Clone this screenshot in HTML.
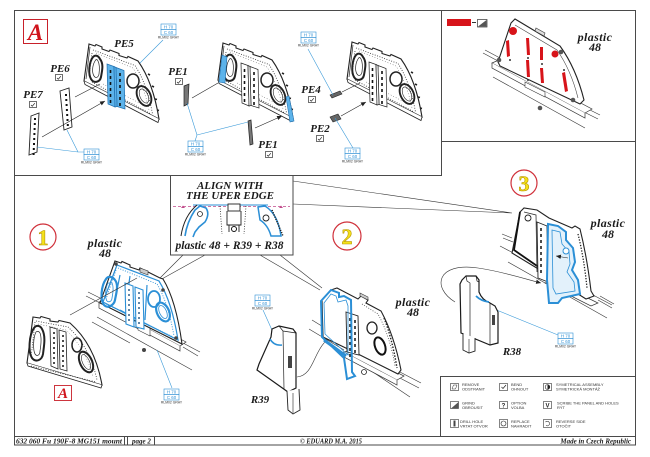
<!DOCTYPE html>
<html><head><meta charset="utf-8">
<style>
html,body{margin:0;padding:0;background:#fff;width:650px;height:457px;overflow:hidden}
svg{display:block}
.b{font-family:"Liberation Serif",serif;font-weight:bold;font-style:italic;fill:#1b1b1b}
.lg{font-family:"Liberation Sans",sans-serif;font-size:4px;fill:#333}
.cb{font-family:"Liberation Sans",sans-serif;font-size:4.4px;fill:#2d8fd5;text-anchor:middle}
.rl{font-family:"Liberation Sans",sans-serif;font-size:3.4px;fill:#333;text-anchor:middle}
.num{font-family:"Liberation Serif",serif;font-weight:bold;font-size:22px;fill:#f4e21a;stroke:#b89400;stroke-width:.6;text-anchor:middle}
</style></head><body>
<svg width="650" height="457" viewBox="0 0 650 457" xmlns="http://www.w3.org/2000/svg">
<defs>
<marker id="ah" markerWidth="6" markerHeight="6" refX="5" refY="3" orient="auto" markerUnits="userSpaceOnUse"><path d="M0,0.8 L5,3 L0,5.2 Z" fill="#222"/></marker>
<g id="pfo">
<path d="M0,0 L6,2 L7,.5 L13,3 L13,5 L20,7.5 L21,6 L30,9.5 L30,11.5 L38,14 L39,12.5 L49,17 Q64,38 70,75 L-5,37 Z" fill="#fff" stroke-width="1.1"/>
<path d="M-5,37 L-4,40.5 L69,78.5 L70,75" fill="#fff" stroke-width=".8"/>
<path d="M1,3 L-3,35" fill="none" stroke-width=".7"/>
</g>
<g id="pfi" fill="none">
<path d="M4,6 L46,21.5 Q58,40 63.5,70 M3,9 L0,33 M3,38 L62,70" stroke-width=".8" stroke-dasharray=".9 1.6"/>
<path d="M7,9 L44,24 Q55,42 60,66 M14,40 L58,63" stroke-width=".5" stroke-dasharray=".8 2"/>
<path d="M4,13 C0,18 -1,30 2,35 C5,40 11,38 12,33 C13,27 15,20 11,15 C9,11 6,11 4,13 Z" stroke-width="2"/>
<path d="M6,17 C3,22 3,29 5,32 C7,35 9.5,33 10,30 C10.5,26 11,21 9,17 C8,15 7,15 6,17 Z" stroke-width=".7"/>
<ellipse cx="44" cy="37" rx="6" ry="7" stroke-width="1.5"/>
<ellipse cx="55" cy="52" rx="6.5" ry="10.5" transform="rotate(-25 55 52)" stroke-width="1.9"/>
<ellipse cx="55" cy="52" rx="4" ry="7.5" transform="rotate(-25 55 52)" stroke-width=".6"/>
<path d="M59,30 l2,1 M63,42 l2,1 M66,55 l2,.5 M68,66 l2,.5" stroke-width="1.6"/>
</g>
<g id="st">
<path d="M18,20 L25,22.5 L26,63 L19,60 Z"/>
<path d="M27,23.5 L35,26.5 L36,65 L28,62.5 Z"/>
<path d="M25,22.5 L27,23.5 L28,62.5 L26,63 Z"/>
<path d="M21.5,26 v3 m0,3 v3 m0,3 v3 m0,3 v3 m0,3 v3 m0,3 v3 M31,29 v3 m0,3 v3 m0,3 v3 m0,3 v3 m0,3 v3 m0,3 v3" stroke-width="1.6" stroke="#111" fill="none"/>
</g>
</defs>
<rect width="650" height="457" fill="#fff"/>

<!-- ================= FRAMES ================= -->
<rect x="14.5" y="10.5" width="621" height="434.5" fill="none" stroke="#4a4a4a" stroke-width="1"/>
<path d="M441.5,10 V175.5 H14 M441,141.5 H636 M14,436.5 H636 M124.5,436 V445 M127.5,436 V445 M154.5,436 V445 M440.5,376 V436 M440,376.5 H636" stroke="#4a4a4a" fill="none"/>

<!-- ================= BOX A (top-left) ================= -->
<rect x="23.5" y="19.5" width="24" height="24" fill="#fff" stroke="#c8202a" stroke-width="1"/>
<text x="35.5" y="40" font-family="Liberation Serif,serif" font-weight="bold" font-style="italic" font-size="23" fill="#d0141c" text-anchor="middle">A</text>

<!-- PE5 panel -->
<g transform="translate(89,44)" stroke="#222"><use href="#pfo"/><use href="#pfi"/></g>
<use href="#st" transform="translate(89,44)" fill="#5db3ea" stroke="#1f6fae" stroke-width=".7"/>
<text class="b" x="124" y="47" font-size="11" text-anchor="middle">PE5</text>
<!-- PE6 / PE7 -->
<path d="M60,91 L69,88 L72,127 L64,130 Z" fill="#fff" stroke="#222" stroke-width=".9"/>
<path d="M66,94 v2 m.3,3 v2 m.3,3 v2 m.3,3 v2 m.3,3 v2 m.3,3 v2 m.3,3 v2" stroke="#111" stroke-width="2"/>
<path d="M31,116 L39,113 L37,152 L29,155 Z" fill="#fff" stroke="#222" stroke-width=".9"/>
<path d="M35,118 v2 m-.2,3 v2 m-.2,3 v2 m-.2,3 v2 m-.2,3 v2 m-.2,3 v2 m-.2,3 v2 m-.2,3 v2" stroke="#111" stroke-width="2"/>
<path d="M75,97 L100,84 M42,137 L105,101" stroke="#222" stroke-width=".6" marker-end="url(#ah)" fill="none"/>
<text class="b" x="60" y="72" font-size="11" text-anchor="middle">PE6</text>
<rect x="55.5" y="74.5" width="7" height="6" fill="#fff" stroke="#333" stroke-width=".7"/><path d="M57,78 l1.3,1.2 l2.5,-3" stroke="#222" stroke-width=".7" fill="none"/>
<text class="b" x="33" y="98" font-size="11" text-anchor="middle">PE7</text>
<rect x="29.5" y="101.5" width="7" height="6" fill="#fff" stroke="#333" stroke-width=".7"/><path d="M31,105 l1.3,1.2 l2.5,-3" stroke="#222" stroke-width=".7" fill="none"/>
<path d="M163,40 L140,63 M84,152 L78,152 L37,147 M78,152 L67,130" stroke="#3a9ad9" stroke-width=".6" fill="none"/>

<!-- PE1 panel -->
<g transform="translate(223,43)" stroke="#222"><use href="#pfo"/><use href="#pfi"/></g>
<use href="#st" transform="translate(223,43)" fill="#fff" stroke="#222" stroke-width=".7"/>
<path d="M222,55 L227,57 L225,83 L219,82 Z" fill="#5db3ea" stroke="#1f6fae" stroke-width=".6"/>
<path d="M286,97 L289,96 L294,121 L290,122 Z" fill="#5db3ea" stroke="#1f6fae" stroke-width=".6"/>
<path d="M184,86 L189,84 L188,104 L184,106 Z" fill="#777" stroke="#222" stroke-width=".7"/>
<path d="M248,121 L251,120 L253,144 L250,145 Z" fill="#777" stroke="#222" stroke-width=".7"/>
<path d="M192,98 L218,83 M255,128 L282,116" stroke="#222" stroke-width=".6" marker-end="url(#ah)" fill="none"/>
<text class="b" x="178" y="75" font-size="11" text-anchor="middle">PE1</text>
<rect x="175.5" y="78.5" width="7" height="6" fill="#fff" stroke="#333" stroke-width=".7"/><path d="M177,82 l1.3,1.2 l2.5,-3" stroke="#222" stroke-width=".7" fill="none"/>
<text class="b" x="268" y="148" font-size="11" text-anchor="middle">PE1</text>
<rect x="265.5" y="151.5" width="7" height="6" fill="#fff" stroke="#333" stroke-width=".7"/><path d="M267,155 l1.3,1.2 l2.5,-3" stroke="#222" stroke-width=".7" fill="none"/>
<path d="M195,141 L197,135 L187,103 M197,135 L248,122" stroke="#3a9ad9" stroke-width=".6" fill="none"/>

<!-- PE4 panel -->
<g transform="translate(352,42)" stroke="#222"><use href="#pfo"/><use href="#pfi"/></g>
<use href="#st" transform="translate(351,42)" fill="#fff" stroke="#222" stroke-width=".7"/>
<path d="M330,95 L340,91 L342,94 L332,98 Z" fill="#666" stroke="#222" stroke-width=".6"/>
<path d="M330,117 L338,114 L341,119 L333,122 Z" fill="#666" stroke="#222" stroke-width=".6"/>
<path d="M342,92 L360,83 M341,116 L366,102" stroke="#222" stroke-width=".6" marker-end="url(#ah)" fill="none"/>
<text class="b" x="311" y="93" font-size="11" text-anchor="middle">PE4</text>
<rect x="308.5" y="96.5" width="7" height="6" fill="#fff" stroke="#333" stroke-width=".7"/><path d="M310,100 l1.3,1.2 l2.5,-3" stroke="#222" stroke-width=".7" fill="none"/>
<text class="b" x="320" y="132" font-size="11" text-anchor="middle">PE2</text>
<rect x="316.5" y="135.5" width="7" height="6" fill="#fff" stroke="#333" stroke-width=".7"/><path d="M318,139 l1.3,1.2 l2.5,-3" stroke="#222" stroke-width=".7" fill="none"/>
<path d="M308,49 L333,95 M353,148 L335,118" stroke="#3a9ad9" stroke-width=".6" fill="none"/>

<!-- colour boxes -->
<g stroke="#2d8fd5" stroke-width=".6" fill="#fff">
<rect x="161" y="24" width="15" height="5.5"/><rect x="161" y="29.5" width="15" height="5.5"/>
<rect x="84" y="149" width="15" height="5.5"/><rect x="84" y="154.5" width="15" height="5.5"/>
<rect x="188" y="141" width="15" height="5.5"/><rect x="188" y="146.5" width="15" height="5.5"/>
<rect x="301" y="32" width="15" height="5.5"/><rect x="301" y="37.5" width="15" height="5.5"/>
<rect x="345" y="148" width="15" height="5.5"/><rect x="345" y="153.5" width="15" height="5.5"/>
<rect x="164" y="389" width="15" height="5.5"/><rect x="164" y="394.5" width="15" height="5.5"/>
<rect x="255" y="295" width="15" height="5.5"/><rect x="255" y="300.5" width="15" height="5.5"/>
<rect x="558" y="333" width="15" height="5.5"/><rect x="558" y="338.5" width="15" height="5.5"/>
</g>
<text class="cb" x="168.5" y="28.3">H 70</text><text class="cb" x="168.5" y="33.8">C 60</text><text class="rl" x="168.5" y="38.5">RLM02 GRAY</text>
<text class="cb" x="91.5" y="153.3">H 70</text><text class="cb" x="91.5" y="158.8">C 60</text><text class="rl" x="91.5" y="163.5">RLM02 GRAY</text>
<text class="cb" x="195.5" y="145.3">H 70</text><text class="cb" x="195.5" y="150.8">C 60</text><text class="rl" x="195.5" y="155.5">RLM02 GRAY</text>
<text class="cb" x="308.5" y="36.3">H 70</text><text class="cb" x="308.5" y="41.8">C 60</text><text class="rl" x="308.5" y="46.5">RLM02 GRAY</text>
<text class="cb" x="352.5" y="152.3">H 70</text><text class="cb" x="352.5" y="157.8">C 60</text><text class="rl" x="352.5" y="162.5">RLM02 GRAY</text>
<text class="cb" x="171.5" y="393.3">H 70</text><text class="cb" x="171.5" y="398.8">C 60</text><text class="rl" x="171.5" y="403.5">RLM02 GRAY</text>
<text class="cb" x="262.5" y="299.3">H 70</text><text class="cb" x="262.5" y="304.8">C 60</text><text class="rl" x="262.5" y="309.5">RLM02 GRAY</text>
<text class="cb" x="565.5" y="337.3">H 70</text><text class="cb" x="565.5" y="342.8">C 60</text><text class="rl" x="565.5" y="347.5">RLM02 GRAY</text>

<!-- ================= TOP-RIGHT BOX ================= -->
<rect x="447" y="19" width="24" height="7" fill="#d7141a"/>
<path d="M472,22.5 H476" stroke="#333" stroke-width="1"/>
<rect x="477.5" y="19.5" width="9.5" height="7.5" fill="#fff" stroke="#333" stroke-width=".7"/>
<path d="M478,26.5 L486.5,20 L486.5,26.5 Z" fill="#555"/>
<path d="M483,53 L498,61 M485,50 L500,58 M493,77 L585,128 M586,108 L600,115 M584,112 L598,119" stroke="#333" stroke-width=".6" fill="none"/>
<path d="M492,63 L499,60 L592,109 L585,113 Z" fill="#fff" stroke="#333" stroke-width=".7"/>
<path d="M492,63 L492,68 L585,118 L585,113" fill="#fff" stroke="#333" stroke-width=".7"/>
<path d="M525,82 L545,92 L545,97 L525,87 Z" fill="#fff" stroke="#333" stroke-width=".6"/>
<path d="M511,23 L515,19 L560,46 Q576,68 584,100 L580,104 L542,86 L500,66 L498,62 Z" fill="#fff" stroke="#222" stroke-width="1.1"/>
<path d="M515,25 L557,50 Q571,70 578,98" fill="none" stroke="#444" stroke-width=".6"/>
<path d="M536,28 L545,33 L544,36 L535,31 Z" fill="#ddd" stroke="#333" stroke-width=".6"/>
<g fill="#555"><circle cx="499" cy="60" r="2.3"/><circle cx="561" cy="52" r="2.3"/><circle cx="573" cy="100" r="2.3"/><circle cx="540" cy="108" r="2.3"/></g>
<g fill="#d7141a">
<circle cx="513" cy="31" r="4"/><circle cx="555" cy="54" r="3.5"/>
<path d="M506,41 L509,40 L510,56 L507,57 Z"/>
<path d="M526,38 L529,38 L530,55 L527,55 Z"/>
<path d="M526,60 L529,60 L530,77 L527,77 Z"/>
<path d="M540,47 L543,47 L543,60 L540,60 Z"/>
<path d="M540,68 L543,68 L544,83 L541,83 Z"/>
<path d="M562,73 L565,72 L568,91 L565,92 Z"/>
</g>
<g fill="#333"><circle cx="510" cy="60" r="1"/><circle cx="528" cy="58" r="1"/><circle cx="528" cy="80" r="1"/><circle cx="542" cy="64" r="1"/><circle cx="564" cy="70" r="1"/></g>
<text class="b" x="595" y="41" font-size="12" text-anchor="middle" letter-spacing=".4">plastic</text>
<text class="b" x="595" y="51" font-size="12" text-anchor="middle">48</text>

<!-- ================= LOWER AREA ================= -->
<path d="M183,255 L158,280 M205,255 L160,280 M260,255 L320,290 M280,255 L322,288 M293,181 L512,213 M293,204 L512,213" stroke="#333" stroke-width=".6" fill="none"/>
<rect x="170.5" y="175.5" width="122.5" height="79.5" fill="#fff" stroke="#4a4a4a"/>
<text class="b" x="230" y="189" font-size="11" text-anchor="middle">ALIGN WITH</text>
<text class="b" x="230" y="199" font-size="11" text-anchor="middle">THE UPER EDGE</text>
<path d="M173,206.5 H290" stroke="#c04a8a" stroke-width=".7" stroke-dasharray="3 2"/>
<path d="M181,208 l2,-2.5 l2,2.5 Z M279,208 l2,-2.5 l2,2.5 Z" fill="#c04a8a"/>
<path d="M193,205 H268" stroke="#2b8fd6" stroke-width="1"/>
<path d="M181,236 Q184,216 197,205" stroke="#222" stroke-width="1" fill="none"/>
<path d="M185,236 Q187,222 195,210 L200,206 L206,208 Q210,214 205,222 L199,227 L195,232 L193,237" stroke="#2b8fd6" stroke-width="1.6" fill="none"/>
<circle cx="200" cy="214" r="2.5" fill="none" stroke="#222" stroke-width=".8"/>
<path d="M220,206 L222,234 M246,206 L244,234" stroke="#333" stroke-width=".8" stroke-dasharray="1 1.5"/>
<rect x="228" y="204" width="12" height="7" fill="#fff" stroke="#222" stroke-width=".9"/>
<path d="M227,211 V225 H241 V211 M229,225 V232 M239,225 V232" stroke="#222" stroke-width=".9" fill="none"/>
<circle cx="234" cy="229" r="2.5" fill="none" stroke="#111" stroke-width="1"/>
<path d="M258,207 L265,206 Q278,214 281,236 L271,236 Q268,225 260,220 Z" fill="none" stroke="#2b8fd6" stroke-width="1.5"/>
<circle cx="266" cy="218" r="3" fill="none" stroke="#222" stroke-width=".9"/>
<path d="M272,210 L283,236" stroke="#222" stroke-width="1.5" stroke-dasharray="1.2 1.2"/>
<text class="b" x="229.5" y="249" font-size="11.5" text-anchor="middle">plastic 48 + R39 + R38</text>

<!-- circles -->
<circle cx="43" cy="237" r="13" fill="#fff" stroke="#d0303a" stroke-width="1.2"/><text class="num" x="43" y="245">1</text>
<circle cx="347" cy="236" r="14" fill="#fff" stroke="#d0303a" stroke-width="1.2"/><text class="num" x="347" y="244">2</text>
<circle cx="524" cy="183" r="13" fill="#fff" stroke="#d0303a" stroke-width="1.2"/><text class="num" x="524" y="191">3</text>

<!-- plastic panel 1 -->
<path d="M88,292 L104,300 M86,296 L102,304 M97,317 L192,370 M92,322 L130,343 M183,343 L200,352 M183,347 L198,356" stroke="#333" stroke-width=".6" fill="none"/>
<path d="M99,302 L106,300 L186,342 L180,346 Z" fill="#fff" stroke="#333" stroke-width=".7"/>
<path d="M99,302 L99,308 L180,351 L180,346" fill="#fff" stroke="#333" stroke-width=".7"/>
<path d="M138,322 L150,328 L150,336 L138,330 Z" fill="#fff" stroke="#333" stroke-width=".6"/>
<path d="M115,261 L121,263 L122,261.5 L130,265 L130,267 L139,270 L140,268 L160,278 L163,279 Q176,300 182,344 L100,303 Z" fill="#fff" stroke="#222" stroke-width="1.1"/>
<g fill="none" stroke="#2b8fd6">
<path d="M117,265 L159,281 Q172,302 178,340 L103,302 Z" stroke-width="1.2"/>
<path d="M118,268 L157,284 Q168,302 174,336 M116,270 L106,299 M106,304 L173,337" stroke-width=".9" stroke-dasharray="1 1.5"/>
<path d="M106,279 C101,286 100,300 104,305 C108,309 114,305 115,300 C116,294 119,285 115,280 C112,276 108,276 106,279 Z" stroke-width="2.2"/>
<path d="M108,283 C105,289 105,298 107,301 C109,303 112,301 112,298 C113,293 114,287 112,283 Z" stroke-width=".8"/>
<ellipse cx="154" cy="299" rx="6" ry="8" stroke-width="1.8"/>
<ellipse cx="163" cy="312" rx="6" ry="10" transform="rotate(-25 163 312)" stroke-width="2.2"/>
<ellipse cx="163" cy="312" rx="3.5" ry="7" transform="rotate(-25 163 312)" stroke-width=".8"/>
<path d="M120,275 L115,300 M130,276 L126,304 M147,285 L145,320 M120,310 L150,326" stroke-width="1.2"/>
</g>
<path d="M125,283 L133,286 L134,327 L126,324 Z M135,287 L143,290 L144,329 L136,327 Z" fill="#fff" stroke="#2b8fd6" stroke-width="1.1"/>
<path d="M129,289 v2 m0,3 v2 m0,3 v2 m0,3 v2 m0,3 v2 m0,3 v2 m0,3 v2 M139,292 v2 m0,3 v2 m0,3 v2 m0,3 v2 m0,3 v2 m0,3 v2 m0,3 v2" stroke="#2b5f8a" stroke-width="1.5"/>
<path d="M140,268 L148,271 L148,275 L140,272 Z" fill="#ccc" stroke="#333" stroke-width=".6"/>
<g fill="#444"><circle cx="116" cy="264" r="1.8"/><circle cx="163" cy="290" r="1.8"/><circle cx="176" cy="338" r="1.8"/><circle cx="144" cy="350" r="2"/></g>
<text class="b" x="105" y="247" font-size="12" text-anchor="middle" letter-spacing=".4">plastic</text>
<text class="b" x="105" y="257" font-size="12" text-anchor="middle">48</text>
<path d="M70,315 L137,278" stroke="#333" stroke-width=".6"/>
<path d="M172,388 L157,350" stroke="#3a9ad9" stroke-width=".6"/>

<!-- panel A (lower-left) -->
<path d="M33,317 L40,318 L41,316.5 L50,319 L50,321 L58,322 L59,320.5 L70,323 Q95,345 102,385 L27,363 Z" fill="#fff" stroke="#222" stroke-width="1.1"/>
<path d="M27,363 L28,366 L101,388 L102,385" fill="#fff" stroke="#222" stroke-width=".8"/>
<g fill="none" stroke="#222">
<path d="M36,321 L68,327 Q90,347 97,380 M35,322 L31,358 M31,366 L96,382" stroke-width=".8" stroke-dasharray=".9 1.6"/>
<path d="M38,324 L66,330 Q86,349 93,377" stroke-width=".5" stroke-dasharray=".8 2"/>
<path d="M34,328 C29,335 28,352 32,358 C36,363 42,360 43,354 C44,346 46,336 42,329 C40,325 36,325 34,328 Z" stroke-width="2"/>
<path d="M36,332 C33,338 33,350 35,354 C37,357 40,355 40,351 C41,345 42,338 40,333 C39,331 37,331 36,332 Z" stroke-width=".7"/>
<ellipse cx="77" cy="345" rx="5" ry="7" stroke-width="1.5"/>
<ellipse cx="86" cy="362" rx="6" ry="11" transform="rotate(-25 86 362)" stroke-width="2"/>
<ellipse cx="86" cy="362" rx="3.5" ry="8" transform="rotate(-25 86 362)" stroke-width=".6"/>
</g>
<path d="M50,327 L57,329 L58,369 L51,366 Z M59,330 L66,332 L67,371 L60,369 Z" fill="#fff" stroke="#222" stroke-width=".8"/>
<path d="M54,332 v2 m0,3 v2 m0,3 v2 m0,3 v2 m0,3 v2 m0,3 v2 m0,3 v2 M63,335 v2 m0,3 v2 m0,3 v2 m0,3 v2 m0,3 v2 m0,3 v2 m0,3 v2" stroke="#111" stroke-width="1.5"/>
<rect x="54.5" y="385.5" width="17" height="15" fill="#fff" stroke="#c8202a" stroke-width=".9"/>
<text x="63" y="398" font-family="Liberation Serif,serif" font-weight="bold" font-style="italic" font-size="15" fill="#d0141c" text-anchor="middle">A</text>

<!-- R39 -->
<path d="M263,310 L280,348" stroke="#3a9ad9" stroke-width=".6"/>
<path d="M272,329 L279,326 L293,329 L296,333 L296,388 L288,392 L257,370 L259,364 L271,337 Z" fill="#fff" stroke="#1a1a1a" stroke-width="1.2"/>
<path d="M279,326 L283,331 L296,333 M283,331 L284,389" fill="none" stroke="#222" stroke-width=".7"/>
<path d="M287,391 L288,410 L293,414 L300,410 L299,389" fill="#fff" stroke="#222" stroke-width=".9"/>
<path d="M293,393 L293,413" stroke="#222" stroke-width=".6"/>
<path d="M270,339 Q274,346 282,345" stroke="#2b8fd6" stroke-width="1.6" fill="none"/>
<path d="M288,356 h4 v12 h-4 z" fill="#444"/>
<text class="b" x="260" y="403" font-size="11" text-anchor="middle">R39</text>
<path d="M297,377 C318,375 312,338 340,335" stroke="#333" stroke-width=".6" fill="none" marker-end="url(#ah)"/>

<!-- panel 2 -->
<path d="M312,320 L346,341 M309,329 L344,350 M358,362 L410,397 M398,371 L421,383 M396,376 L419,388" stroke="#333" stroke-width=".6" fill="none"/>
<path d="M344,352 L352,350 L404,376 L397,380 Z" fill="#fff" stroke="#333" stroke-width=".7"/>
<path d="M344,352 L344,357 L397,385 L397,380" fill="#fff" stroke="#333" stroke-width=".7"/>
<path d="M331,290 L337,288 L358,299 L361,296 L368,300 L366,303 L381,311 Q394,335 401,370 L398,374 L352,351 L323,337 L322,300 Z" fill="#fff" stroke="#222" stroke-width="1.1"/>
<path d="M362,304 L378,314 Q390,336 395,366" fill="none" stroke="#444" stroke-width=".8" stroke-dasharray=".9 1.6"/>
<path d="M384,318 Q392,338 397,368" fill="none" stroke="#222" stroke-width="1.4" stroke-dasharray="1.5 1.5"/>
<ellipse cx="372" cy="328" rx="5" ry="6" fill="none" stroke="#222" stroke-width="1.3"/>
<ellipse cx="380" cy="346" rx="5" ry="9" transform="rotate(-20 380 346)" fill="none" stroke="#111" stroke-width="2"/>
<path d="M346,312 L358,316 L359,355 L347,352 Z" fill="#fff" stroke="#222" stroke-width=".9"/>
<path d="M350,318 v3 m0,3 v3 m0,3 v3 m0,3 v3 m0,3 v3 m0,3 v3 m0,3 v3 M355,320 v3 m0,3 v3 m0,3 v3 m0,3 v3 m0,3 v3 m0,3 v3" stroke="#111" stroke-width="1.5"/>
<path d="M321,301 L331,290 L339,293 L339,297 L344,296 L351,300 L352,372 L355,376 L347,379 L344,358 L322,337 Z" fill="none" stroke="#2b8fd6" stroke-width="2"/>
<path d="M324,303 L331,294 L336,296 L338,302 L346,300 L348,306 L348,355 L325,334 Z" fill="none" stroke="#2b8fd6" stroke-width=".8"/>
<path d="M324,340 L346,356" stroke="#2b8fd6" stroke-width="3"/>
<circle cx="364" cy="372" r="2.5" fill="#fff" stroke="#222" stroke-width=".8"/>
<path d="M360,293 L368,297 L368,300 L360,296 Z" fill="#ccc" stroke="#333" stroke-width=".6"/>
<text class="b" x="413" y="306" font-size="12" text-anchor="middle" letter-spacing=".4">plastic</text>
<text class="b" x="413" y="316" font-size="12" text-anchor="middle">48</text>

<!-- R38 -->
<path d="M472,300 L558,335" stroke="#3a9ad9" stroke-width=".6"/>
<path d="M455,302 C432,288 436,262 478,268 C505,272 525,279 541,283" stroke="#333" stroke-width=".6" fill="none" marker-end="url(#ah)"/>
<path d="M462,280 L466,276 L476,276 L479,280 L479,292 Q482,300 490,303 L495,306 L498,312 L498,343 L490,345 L461,333 L460,284 Z" fill="#fff" stroke="#1a1a1a" stroke-width="1.2"/>
<path d="M466,276 L467,281 L470,283 L470,336 M476,276 L477,281 L479,282 M490,303 L490,345" fill="none" stroke="#222" stroke-width=".7"/>
<path d="M463,333 L463,350 L469,353 L475,351 L475,338" fill="#fff" stroke="#222" stroke-width=".9"/>
<path d="M469,339 L469,353" stroke="#222" stroke-width=".6"/>
<path d="M476,296 Q481,301 489,302" stroke="#2b8fd6" stroke-width="1.8" fill="none"/>
<path d="M492,315 h3 v10 h-3 z" fill="#444"/>
<text class="b" x="512" y="355" font-size="11" text-anchor="middle">R38</text>

<!-- panel 3 -->
<path d="M500,246 L612,305 M508,262 L607,318 M600,296 L614,304 M598,300 L612,308 M502,234 L512,238 M503,238 L513,242" stroke="#333" stroke-width=".6" fill="none"/>
<path d="M545,283 L553,281 L598,303 L591,306 Z" fill="#fff" stroke="#333" stroke-width=".7"/>
<path d="M520,212 L524,208 L537,210 L549,218 L572,228 L575,226 L580,229 Q587,257 591,291 L594,296 L586,299 L540,270 L512,253 Z" fill="#fff" stroke="#222" stroke-width="1.1"/>
<path d="M520,212 L514,250 L540,268" fill="none" stroke="#111" stroke-width="1.8"/>
<path d="M524,212 L536,215 L537,272" fill="none" stroke="#333" stroke-width=".8"/>
<circle cx="528" cy="218" r="3" fill="#fff" stroke="#222" stroke-width=".9"/>
<path d="M578,234 Q584,258 587,288" fill="none" stroke="#222" stroke-width="1.3" stroke-dasharray="1.3 1.5"/>
<path d="M537,222 L547,226 L548,282 L538,278 Z" fill="#fff" stroke="#222" stroke-width=".9"/>
<path d="M541,228 v3 m0,3 v3 m0,3 v3 m0,3 v3 m0,3 v3 m0,3 v3 m0,3 v3 m0,3 v3" stroke="#111" stroke-width="1.5"/>
<path d="M548,224 L558,226 L566,232 L566,240 L573,248 L575,262 L572,270 L578,280 L580,294 L562,298 L558,303 L549,303 L547,280 Z" fill="#e3f1fb" stroke="#2b8fd6" stroke-width="2"/>
<path d="M552,230 L560,232 L562,244 L569,252 L570,264 L567,272 L574,282 L575,291 L556,294 L553,288 Z" fill="none" stroke="#2b8fd6" stroke-width=".8"/>
<circle cx="566" cy="251" r="3" fill="#fff" stroke="#2b8fd6" stroke-width="1"/>
<path d="M568,258 L556,256" stroke="#222" stroke-width=".6" marker-end="url(#ah)"/>
<text class="b" x="608" y="227" font-size="12" text-anchor="middle" letter-spacing=".4">plastic</text>
<text class="b" x="608" y="238" font-size="12" text-anchor="middle">48</text>

<!-- ================= LEGEND ================= -->
<g fill="#fff" stroke="#333" stroke-width=".6">
<rect x="450.5" y="383.5" width="8" height="7"/><rect x="499.5" y="383.5" width="8" height="7"/><rect x="543.5" y="383.5" width="8" height="7"/>
<rect x="450.5" y="401.5" width="8" height="7"/><rect x="499.5" y="401.5" width="8" height="7"/><rect x="543.5" y="401.5" width="8" height="7"/>
<rect x="450.5" y="419.5" width="8" height="8"/><rect x="499.5" y="419.5" width="8" height="8"/><rect x="543.5" y="419.5" width="8" height="8"/>
</g>
<path d="M452,389 L453.5,385 L457,385 L455.5,389 Z" fill="none" stroke="#333" stroke-width=".5"/>
<path d="M501.5,387 l1.5,1.5 l3,-3.5" fill="none" stroke="#222" stroke-width=".7"/>
<circle cx="547.5" cy="387" r="2.3" fill="#fff" stroke="#222" stroke-width=".6"/><path d="M547.5,384.7 A2.3,2.3 0 0 1 547.5,389.3 Z" fill="#222"/>
<path d="M451,408.5 L458.5,402 L458.5,408.5 Z" fill="#555"/>
<text x="503.5" y="407.5" font-family="Liberation Sans,sans-serif" font-size="6" font-weight="bold" fill="#222" text-anchor="middle">?</text>
<text x="547.5" y="407.5" font-family="Liberation Sans,sans-serif" font-size="6" font-weight="bold" fill="#222" text-anchor="middle">V</text>
<rect x="453.5" y="420.5" width="2" height="6" fill="#444"/>
<circle cx="503.5" cy="423.5" r="2.5" fill="none" stroke="#222" stroke-width=".6"/>
<path d="M545.5,422 A2.3,2.3 0 1 1 546,425.5" fill="none" stroke="#222" stroke-width=".6"/>
<text class="lg" x="462" y="386">REMOVE</text><text class="lg" x="462" y="390.5">ODSTRANIT</text>
<text class="lg" x="511" y="386">BEND</text><text class="lg" x="511" y="390.5">OHNOUT</text>
<text class="lg" x="556" y="386">SYMETRICAL ASSEMBLY</text><text class="lg" x="556" y="390.5">SYMETRICKÁ MONTÁŽ</text>
<text class="lg" x="462" y="404.5">GRIND</text><text class="lg" x="462" y="409">OBROUSIT</text>
<text class="lg" x="511" y="404.5">OPTION</text><text class="lg" x="511" y="409">VOLBA</text>
<text class="lg" x="557" y="404.5">SCRIBE THE PANEL AND HOLES</text><text class="lg" x="557" y="409">RÝT</text>
<text class="lg" x="460" y="423">DRILL HOLE</text><text class="lg" x="460" y="427.5">VRTAT OTVOR</text>
<text class="lg" x="511" y="423">REPLACE</text><text class="lg" x="511" y="427.5">NAHRADIT</text>
<text class="lg" x="556" y="423">REVERSE SIDE</text><text class="lg" x="556" y="427.5">OTOČIT</text>

<!-- ================= FOOTER ================= -->
<text class="b" x="16" y="443.3" font-size="7" textLength="106" lengthAdjust="spacingAndGlyphs">632 060  Fu 190F-8 MG151 mount</text>
<text class="b" x="132" y="443.3" font-size="7">page 2</text>
<text class="b" x="300" y="443.3" font-size="7" textLength="62" lengthAdjust="spacingAndGlyphs">© EDUARD  M.A. 2015</text>
<text class="b" x="631" y="443.3" font-size="7" text-anchor="end">Made in Czech Republic</text>
</svg>
</body></html>
